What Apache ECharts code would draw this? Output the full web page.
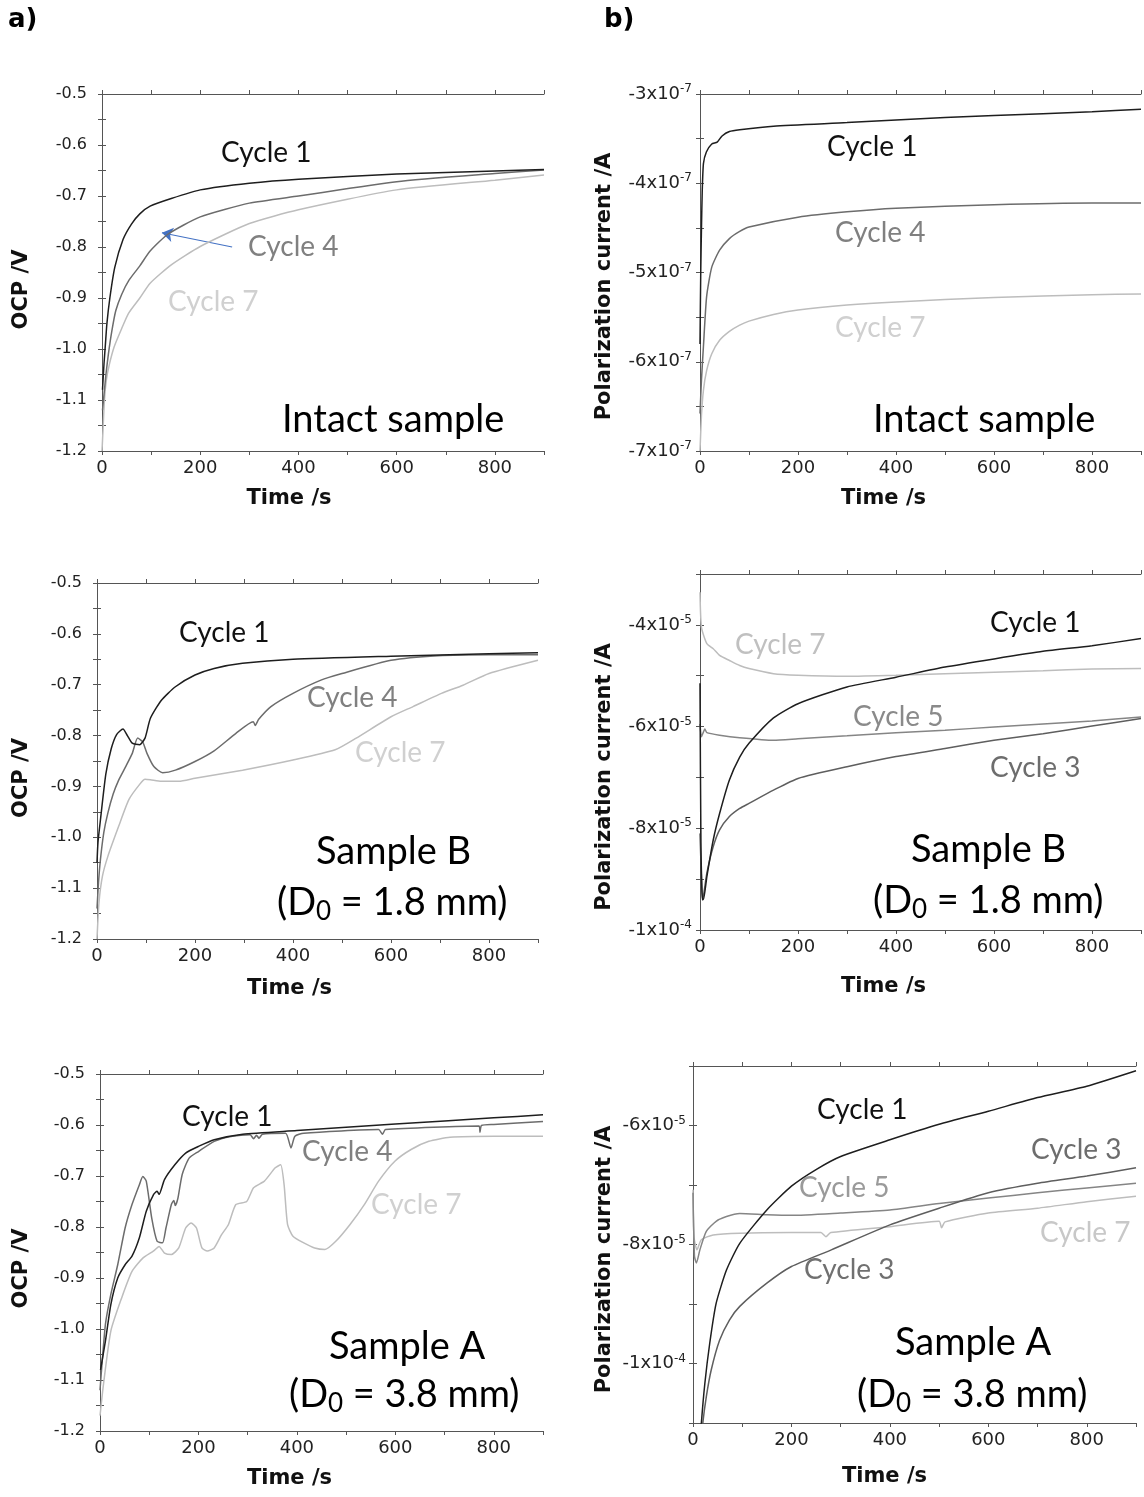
<!DOCTYPE html>
<html><head><meta charset="utf-8">
<script src="https://cdn.jsdelivr.net/npm/echarts@6/dist/echarts.min.js"></script>
<style>html,body{margin:0;padding:0;background:#fff}#c{width:1144px;height:1497px}</style>
</head><body><div id="c"></div><script>
// ---------- DATA (time s, value) ----------
// a) OCP /V — Intact sample
const A1_C1 = [[1,-1.08],[4,-1.03],[7,-0.99],[10,-0.95],[16,-0.90],[26,-0.84],[43,-0.785],[60,-0.755],[77,-0.735],[98,-0.72],[141,-0.705],[200,-0.688],[300,-0.675],[400,-0.667],[600,-0.657],[800,-0.651],[900,-0.648]];
const A1_C4 = [[1,-1.12],[4,-1.09],[8,-1.05],[13,-1.01],[20,-0.965],[28,-0.925],[40,-0.893],[55,-0.865],[77,-0.837],[98,-0.808],[134,-0.775],[200,-0.741],[300,-0.714],[400,-0.700],[600,-0.672],[800,-0.656],[900,-0.649]];
const A1_C7 = [[0,-1.2],[2,-1.16],[5,-1.1],[9,-1.06],[15,-1.03],[25,-0.995],[40,-0.96],[54,-0.93],[77,-0.9],[98,-0.871],[141,-0.835],[200,-0.799],[300,-0.754],[400,-0.727],[600,-0.688],[800,-0.669],[900,-0.659]];
// a) Sample B
const A2_C1 = [[0,-1.05],[2,-1.01],[7,-0.966],[18,-0.876],[29,-0.826],[40,-0.798],[53,-0.787],[62,-0.800],[72,-0.815],[87,-0.818],[98,-0.805],[109,-0.766],[131,-0.731],[160,-0.704],[200,-0.681],[239,-0.668],[297,-0.658],[400,-0.650],[600,-0.644],[800,-0.639],[900,-0.637]];
const A2_C4 = [[0,-1.14],[3,-1.09],[7,-1.044],[14,-0.99],[22,-0.953],[33,-0.915],[44,-0.888],[58,-0.862],[72,-0.835],[83,-0.805],[93,-0.812],[102,-0.835],[116,-0.861],[134,-0.873],[160,-0.868],[200,-0.851],[239,-0.830],[283,-0.796],[319,-0.773],[323,-0.780],[330,-0.768],[355,-0.743],[400,-0.717],[457,-0.691],[500,-0.678],[600,-0.652],[696,-0.643],[800,-0.641],[900,-0.641]];
const A2_C7 = [[0,-1.2],[4,-1.129],[11,-1.077],[22,-1.038],[44,-0.979],[65,-0.926],[87,-0.896],[98,-0.886],[109,-0.887],[131,-0.890],[167,-0.890],[200,-0.884],[297,-0.868],[400,-0.848],[486,-0.828],[529,-0.805],[600,-0.763],[645,-0.743],[703,-0.717],[747,-0.701],[800,-0.678],[900,-0.652]];
// a) Sample A
const A3_C1 = [[1,-1.08],[11,-1.024],[22,-0.952],[36,-0.900],[51,-0.874],[65,-0.857],[80,-0.821],[94,-0.769],[109,-0.736],[116,-0.730],[120,-0.736],[131,-0.707],[152,-0.678],[174,-0.655],[200,-0.642],[232,-0.629],[290,-0.618],[400,-0.611],[600,-0.598],[800,-0.586],[900,-0.580]];
const A3_C4 = [[0,-1.12],[11,-0.991],[22,-0.932],[36,-0.874],[51,-0.802],[65,-0.756],[80,-0.717],[87,-0.701],[94,-0.710],[105,-0.782],[116,-0.828],[127,-0.831],[134,-0.802],[145,-0.756],[150,-0.748],[153,-0.758],[158,-0.745],[167,-0.697],[181,-0.665],[200,-0.652],[232,-0.632],[269,-0.622],[305,-0.619],[312,-0.627],[318,-0.620],[323,-0.626],[330,-0.618],[377,-0.616],[388,-0.645],[396,-0.622],[414,-0.616],[566,-0.609],[574,-0.618],[580,-0.609],[770,-0.602],[772,-0.614],[775,-0.601],[800,-0.599],[900,-0.593]];
const A3_C7 = [[0,-1.17],[7,-1.109],[22,-1.004],[44,-0.939],[65,-0.887],[87,-0.861],[109,-0.847],[120,-0.838],[131,-0.851],[145,-0.854],[160,-0.841],[174,-0.802],[185,-0.792],[196,-0.802],[207,-0.841],[218,-0.847],[232,-0.841],[247,-0.815],[261,-0.795],[276,-0.756],[298,-0.750],[312,-0.723],[334,-0.710],[356,-0.684],[367,-0.678],[374,-0.717],[381,-0.795],[392,-0.818],[414,-0.831],[436,-0.841],[457,-0.844],[479,-0.828],[508,-0.795],[537,-0.756],[566,-0.710],[599,-0.671],[632,-0.648],[668,-0.632],[711,-0.624],[800,-0.622],[900,-0.622]];
// b) Polarization current /A — Intact sample
const B1_C1 = [[0,-5.8e-7],[1.5,-5.0e-7],[3,-4.5e-7],[4.5,-4.1e-7],[7,-3.78e-7],[13,-3.65e-7],[24,-3.56e-7],[35,-3.54e-7],[45,-3.47e-7],[60,-3.42e-7],[81,-3.40e-7],[150,-3.36e-7],[300,-3.32e-7],[400,-3.29e-7],[600,-3.24e-7],[800,-3.20e-7],[900,-3.17e-7]];
const B1_C4 = [[0,-6.58e-7],[3,-6.2e-7],[7,-5.83e-7],[13.5,-5.27e-7],[24,-4.94e-7],[40,-4.75e-7],[60,-4.62e-7],[81,-4.54e-7],[100,-4.49e-7],[200,-4.38e-7],[300,-4.32e-7],[400,-4.28e-7],[600,-4.24e-7],[800,-4.22e-7],[900,-4.22e-7]];
const B1_C7 = [[0,-7.0e-7],[3,-6.6e-7],[7,-6.32e-7],[13.5,-6.10e-7],[24,-5.91e-7],[40,-5.76e-7],[60,-5.66e-7],[81,-5.59e-7],[100,-5.545e-7],[150,-5.47e-7],[200,-5.42e-7],[300,-5.365e-7],[400,-5.33e-7],[600,-5.28e-7],[800,-5.25e-7],[900,-5.24e-7]];
// b) Sample B
const B2_C1 = [[0,-5.15e-5],[2,-8.4e-5],[5,-9.4e-5],[7,-9.4e-5],[14,-8.95e-5],[27,-8.23e-5],[40,-7.71e-5],[60,-7.05e-5],[81,-6.6e-5],[100,-6.33e-5],[150,-5.83e-5],[200,-5.55e-5],[300,-5.22e-5],[400,-5.03e-5],[500,-4.83e-5],[600,-4.67e-5],[700,-4.52e-5],[800,-4.41e-5],[900,-4.27e-5]];
const B2_C3 = [[0,-8.1e-5],[3,-9.0e-5],[5,-9.41e-5],[8,-9.27e-5],[14,-8.88e-5],[27,-8.36e-5],[40,-8.03e-5],[60,-7.77e-5],[81,-7.61e-5],[100,-7.51e-5],[150,-7.25e-5],[200,-7.02e-5],[300,-6.79e-5],[400,-6.59e-5],[500,-6.43e-5],[600,-6.27e-5],[700,-6.14e-5],[800,-5.99e-5],[900,-5.84e-5]];
const B2_C5 = [[0,-5.95e-5],[3,-6.2e-5],[10,-6.05e-5],[14,-6.12e-5],[40,-6.17e-5],[81,-6.22e-5],[150,-6.27e-5],[200,-6.24e-5],[300,-6.18e-5],[400,-6.12e-5],[500,-6.07e-5],[600,-6.01e-5],[700,-5.95e-5],[800,-5.89e-5],[900,-5.81e-5]];
const B2_C7 = [[0,-3.36e-5],[3,-4.05e-5],[14,-4.37e-5],[27,-4.47e-5],[40,-4.60e-5],[60,-4.70e-5],[81,-4.80e-5],[100,-4.86e-5],[150,-4.96e-5],[200,-4.99e-5],[300,-5.01e-5],[400,-4.99e-5],[500,-4.96e-5],[600,-4.93e-5],[700,-4.90e-5],[800,-4.87e-5],[900,-4.86e-5]];
// b) Sample A
const B3_C1 = [[15,-11.3e-5],[17,-11.0e-5],[24,-10.34e-5],[34,-9.66e-5],[47,-8.99e-5],[68,-8.43e-5],[95,-7.98e-5],[150,-7.42e-5],[200,-7.02e-5],[250,-6.74e-5],[300,-6.52e-5],[400,-6.24e-5],[500,-5.98e-5],[600,-5.76e-5],[700,-5.53e-5],[800,-5.34e-5],[900,-5.08e-5]];
const B3_C3 = [[18,-11.3e-5],[20,-11.0e-5],[27,-10.56e-5],[37,-10.11e-5],[54,-9.61e-5],[74,-9.27e-5],[95,-9.04e-5],[150,-8.65e-5],[200,-8.37e-5],[281,-8.09e-5],[400,-7.67e-5],[500,-7.39e-5],[600,-7.13e-5],[700,-6.97e-5],[800,-6.85e-5],[900,-6.71e-5]];
const B3_C5 = [[0,-7.13e-5],[3,-8.2e-5],[7,-8.31e-5],[14,-8.09e-5],[27,-7.78e-5],[47,-7.61e-5],[68,-7.53e-5],[95,-7.48e-5],[150,-7.50e-5],[200,-7.51e-5],[300,-7.47e-5],[400,-7.42e-5],[500,-7.31e-5],[600,-7.22e-5],[700,-7.13e-5],[800,-7.05e-5],[900,-6.97e-5]];
const B3_C7 = [[0,-7.08e-5],[2,-7.87e-5],[8,-8.09e-5],[17,-7.92e-5],[41,-7.84e-5],[95,-7.81e-5],[200,-7.80e-5],[260,-7.80e-5],[270,-7.87e-5],[280,-7.80e-5],[400,-7.70e-5],[500,-7.61e-5],[505,-7.72e-5],[512,-7.62e-5],[600,-7.47e-5],[700,-7.39e-5],[800,-7.28e-5],[900,-7.19e-5]];
// arrow annotation (time, OCP) in the intact-sample OCP panel
const A1_ARROW = [[265,-0.80],[122,-0.772]];

// ---------- STYLE ----------
const AX = '#555';
const K1 = '#1e1e1e', G4 = '#6c6c6c', G5 = '#858585', L7 = '#bdbdbd';

function fmtA(v){ const n = Math.round(v*100); return n % 10 === 0 ? (n/100).toFixed(1) : ''; }
function fmtB1(v){ const n = Math.round(v*1e8); return n % 10 === 0 ? '-' + Math.abs(n/10) + 'x10{s|-7}' : ''; }
function fmtB2(v){ const n = Math.round(v*1e5); if (n % 2 !== 0) return ''; return n === -10 ? '-1x10{s|-4}' : '-' + Math.abs(n) + 'x10{s|-5}'; }

const PANELS = [
  {g:{left:102,top:94,width:442,height:357}, y:{min:-1.2,max:-0.5,iv:0.05,fmt:fmtA,m:15,fs:16}, yName:'OCP /V', yGap:70, yShift:17, xGap:37, xShift:34,
   s:[[A1_C1,K1],[A1_C4,G4],[A1_C7,L7]]},
  {g:{left:97,top:583,width:441,height:356}, y:{min:-1.2,max:-0.5,iv:0.05,fmt:fmtA,m:15,fs:16}, yName:'OCP /V', yGap:65, yShift:17, xGap:39, xShift:28,
   s:[[A2_C1,K1],[A2_C4,G4],[A2_C7,L7]]},
  {g:{left:100,top:1074,width:443,height:357}, y:{min:-1.2,max:-0.5,iv:0.05,fmt:fmtA,m:15,fs:16}, yName:'OCP /V', yGap:68, yShift:16, xGap:37, xShift:32,
   s:[[A3_C1,K1],[A3_C4,G4],[A3_C7,L7]]},
  {g:{left:700,top:94,width:443,height:357}, y:{min:-7e-7,max:-3e-7,iv:0.5e-7,fmt:fmtB1,m:8,fs:18}, yName:'Polarization current /A', yGap:85, yShift:14, xGap:37, xShift:37,
   s:[[B1_C1,K1],[B1_C4,G4],[B1_C7,L7]]},
  {g:{left:700,top:574,width:443,height:356}, y:{min:-1e-4,max:-3e-5,iv:1e-5,fmt:fmtB2,m:8,fs:18}, yName:'Polarization current /A', yGap:85, yShift:25, xGap:46, xShift:37,
   s:[[B2_C1,K1],[B2_C3,'#5e5e5e'],[B2_C5,G5],[B2_C7,L7]]},
  {g:{left:693,top:1066,width:443,height:357}, y:{min:-1.1e-4,max:-5e-5,iv:1e-5,fmt:fmtB2,m:7,fs:18}, yName:'Polarization current /A', yGap:78, yShift:15, xGap:43, xShift:30,
   s:[[B3_C1,K1],[B3_C3,'#5e5e5e'],[B3_C5,G5],[B3_C7,L7]]}
];

const grid = [], xAxis = [], yAxis = [], series = [];
PANELS.forEach((p, i) => {
  grid.push(Object.assign({containLabel:false}, p.g));
  const line = {show:true, lineStyle:{color:AX, width:1}};
  const tick = {show:true, length:4, lineStyle:{color:AX, width:1}};
  xAxis.push({gridIndex:i, type:'value', min:0, max:900, interval:100, position:'bottom',
    axisLine:line, axisTick:tick, splitLine:{show:false},
    axisLabel:{margin:8, fontSize:18, fontFamily:'DejaVu Sans', color:'#222',
      formatter:v => (v % 200 === 0 && v < 900) ? String(v) : ''},
    name:'Time /s', nameLocation:'middle', nameGap:p.xGap,
    nameTextStyle:{fontFamily:'DejaVu Sans', fontWeight:'bold', fontSize:21, color:'#111', padding:[0,2*p.xShift,0,0]}});
  xAxis.push({gridIndex:i, type:'value', min:0, max:900, interval:100, position:'top',
    axisLine:line, axisTick:tick, splitLine:{show:false}, axisLabel:{show:false}});
  yAxis.push({gridIndex:i, type:'value', min:p.y.min, max:p.y.max, interval:p.y.iv, position:'left',
    axisLine:line, axisTick:tick, splitLine:{show:false},
    axisLabel:{margin:p.y.m, fontSize:p.y.fs, fontFamily:'DejaVu Sans', color:'#222', formatter:p.y.fmt,
      rich:{s:{fontSize:12, fontFamily:'DejaVu Sans', color:'#222', padding:[0,0,10,0]}}},
    name:p.yName, nameLocation:'middle', nameGap:p.yGap,
    nameTextStyle:{fontFamily:'DejaVu Sans', fontWeight:'bold', fontSize:21, color:'#111', padding:[0,2*p.yShift,0,0]}});
  yAxis.push({gridIndex:i, type:'value', min:p.y.min, max:p.y.max, interval:p.y.iv, position:'right',
    axisLine:line, axisTick:tick, splitLine:{show:false}, axisLabel:{show:false}});
  p.s.forEach(([data, color], j) => {
    series.push({type:'line', xAxisIndex:2*i, yAxisIndex:2*i, data, symbol:'none', smooth:0.2,
      clip:true, lineStyle:{color, width:1.5}, z:10-j, silent:true});
  });
});
// arrow on intact OCP panel (series index 1 = Cycle 4)
series[1].markLine = {silent:true, symbol:['none','arrow'], symbolSize:11, animation:false,
  lineStyle:{color:'#4472c4', width:1.2, type:'solid'}, label:{show:false},
  data:[[{coord:A1_ARROW[0]},{coord:A1_ARROW[1]}]]};

// ---------- TEXT ANNOTATIONS ----------
const CY = 28, BIG = 38;
function T(text, x, y, size, fill){
  return {type:'text', x, y, z:100, style:{text, fill, fontSize:size, fontFamily:'Lato', align:'left', verticalAlign:'middle'}};
}
function TD(text, x, y){
  return {type:'text', x, y, z:100, style:{text, fill:'#000', fontSize:BIG, fontFamily:'Lato', align:'left', verticalAlign:'middle',
    rich:{sub:{fontSize:26, fontFamily:'Lato', fill:'#000', padding:[18,0,0,0]}}}};
}
const graphic = [
  {type:'text', x:8, y:20, style:{text:'a)', fill:'#000', fontSize:26, fontWeight:'bold', fontFamily:'DejaVu Sans', verticalAlign:'middle'}},
  {type:'text', x:604, y:20, style:{text:'b)', fill:'#000', fontSize:26, fontWeight:'bold', fontFamily:'DejaVu Sans', verticalAlign:'middle'}},
  // a1
  T('Cycle 1', 221, 153, CY, '#111'), T('Cycle 4', 248, 247, CY, '#808080'), T('Cycle 7', 168, 302, CY, '#d0d0d0'),
  T('Intact sample', 282, 420, BIG, '#000'),
  // a2
  T('Cycle 1', 179, 633, CY, '#111'), T('Cycle 4', 307, 698, CY, '#808080'), T('Cycle 7', 355, 753, CY, '#d0d0d0'),
  T('Sample B', 316, 852, BIG, '#000'), TD('(D{sub|0} = 1.8 mm)', 277, 903),
  // a3
  T('Cycle 1', 182, 1117, CY, '#111'), T('Cycle 4', 302, 1152, CY, '#808080'), T('Cycle 7', 371, 1205, CY, '#d0d0d0'),
  T('Sample A', 329, 1347, BIG, '#000'), TD('(D{sub|0} = 3.8 mm)', 289, 1395),
  // b1
  T('Cycle 1', 827, 147, CY, '#111'), T('Cycle 4', 835, 233, CY, '#808080'), T('Cycle 7', 835, 328, CY, '#d0d0d0'),
  T('Intact sample', 873, 420, BIG, '#000'),
  // b2
  T('Cycle 1', 990, 623, CY, '#111'), T('Cycle 7', 735, 645, CY, '#c0c0c0'), T('Cycle 5', 853, 717, CY, '#8a8a8a'),
  T('Cycle 3', 990, 768, CY, '#6d6d6d'),
  T('Sample B', 911, 850, BIG, '#000'), TD('(D{sub|0} = 1.8 mm)', 873, 901),
  // b3
  T('Cycle 1', 817, 1110, CY, '#111'), T('Cycle 3', 1031, 1150, CY, '#6d6d6d'), T('Cycle 5', 799, 1188, CY, '#9a9a9a'),
  T('Cycle 7', 1040, 1233, CY, '#c8c8c8'), T('Cycle 3', 804, 1270, CY, '#707070'),
  T('Sample A', 895, 1343, BIG, '#000'), TD('(D{sub|0} = 3.8 mm)', 857, 1395)
];

const chart = echarts.init(document.getElementById('c'), null, {renderer:'canvas', width:1144, height:1497});
chart.setOption({animation:false, backgroundColor:'#fff', grid, xAxis, yAxis, series, graphic});
</script></body></html>
